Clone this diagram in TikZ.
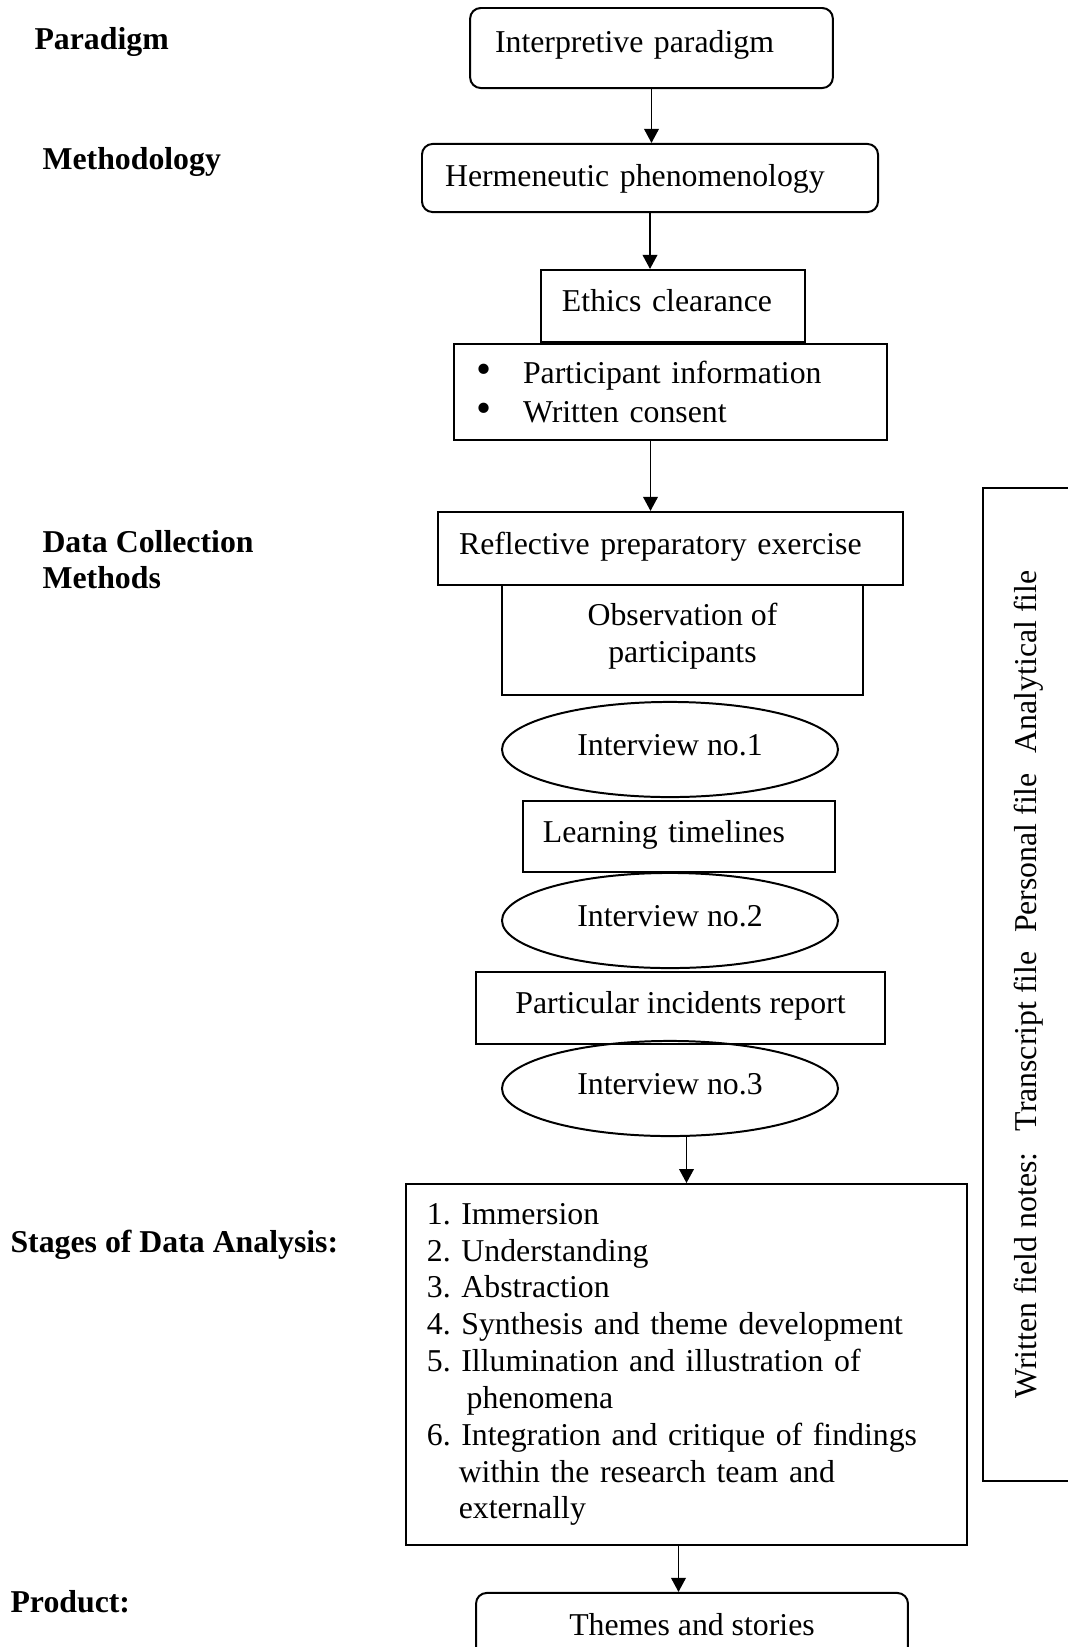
\documentclass[tikz,border=0pt]{standalone}
\usepackage{fontspec}
\setmainfont{Liberation Serif}
\usetikzlibrary{shapes.geometric,arrows.meta,calc}
\frenchspacing

\tikzset{
  box/.style={draw, line width=0.75pt, font=\fontsize{12}{14}\selectfont, inner ysep=0pt},
  lbox/.style={box, align=left},
  cbox/.style={box, align=center},
  rbox/.style={lbox, rounded corners=4pt},
  oneline/.style={text height=8.5pt, text depth=4pt},
  oval/.style={ellipse, draw, line width=0.75pt, font=\fontsize{12}{14}\selectfont, inner sep=0pt,
    minimum width=126.8pt, minimum height=35.9pt, text height=8.5pt, text depth=4.3pt},
  lab/.style={font=\fontsize{12}{13.6}\selectfont\bfseries, inner sep=0pt, align=left},
  arr/.style={line width=0.7pt, -{Triangle[length=5.3pt,width=5.5pt]}},
}
\newcommand{\bul}{\makebox[17.4pt][l]{\scalebox{1.35}{\textbullet}}}

\begin{document}
\begin{tikzpicture}[x=0.3774pt,y=-0.3774pt]
\useasboundingbox (0,0) rectangle (1068,1647);
\clip (0,0) rectangle (1068,1647);

% left column
\node[lab, anchor=base west] (lparadigm) at (34,49) {Paradigm};
\node[lab, anchor=base west] (lmethod) at (42,169) {Methodology};
\node[lab, anchor=north west] (lcollect) at (42,530) {Data Collection\\Methods};
\node[lab, anchor=base west] (lstages) at (10,1252) {Stages of Data Analysis:};
\node[lab, anchor=base west] (lproduct) at (10,1612) {Product:};

% main flow
\node[rbox, oneline, text depth=5pt, minimum height=30.2pt, inner xsep=9.4pt, text width=118.1pt] (interp) at (651.5,48) {Interpretive paradigm};
\node[rbox, oneline, text depth=2pt, minimum height=25.7pt, inner xsep=8.7pt, text width=154.7pt] (herm) at (650,178) {Hermeneutic phenomenology};
\node[lbox, oneline, minimum height=27.2pt, inner xsep=7.9pt, text width=83.8pt] (ethics) at (673,306) {Ethics clearance};
\node[lbox, minimum height=36.2pt, inner xsep=8.7pt, text width=146.1pt, font=\fontsize{12}{15}\selectfont] (partic) at (670.5,392)
  {\bul Participant information\\\bul Written consent\\[-12pt]};
\node[lbox, oneline, minimum height=27.6pt, inner xsep=7.9pt, text width=159.6pt] (reflect) at (670.5,548.5) {Reflective preparatory exercise};
\node[cbox, minimum width=136.2pt, minimum height=41.5pt] (observ) at (682.5,640) {Observation of\\participants\\[-8.5pt]};
\node[oval] (int1) at (670,749.5) {Interview no.1};
\node[lbox, oneline, minimum height=26.8pt, inner xsep=7.5pt, text width=102.7pt] (learn) at (679,836.5) {Learning timelines};
\node[oval] (int2) at (670,920.5) {Interview no.2};
\node[cbox, oneline, minimum width=154.4pt, minimum height=27.2pt] (partinc) at (680.5,1008) {Particular incidents report};
\node[oval] (int3) at (670,1088.5) {Interview no.3};
\node[lbox, minimum height=136.2pt, inner xsep=7.9pt, text width=195.9pt, font=\fontsize{12}{13.9}\selectfont] (stages) at (686.5,1364.5) {%
1. Immersion\\
2. Understanding\\
3. Abstraction\\
4. Synthesis and theme development\\
5. Illumination and illustration of\\
\hspace*{15pt}phenomena\\
6. Integration and critique of findings\\
\hspace*{1em}within the research team and\\
\hspace*{1em}externally};
\node[cbox, rounded corners=4pt, minimum width=163pt, minimum height=24.2pt] (themes) at (692,1625) {Themes and stories};

% field notes
\node[box, rotate=90, minimum width=374.8pt, minimum height=34.7pt] (notes) at (1029,984.5)
  {Written field notes:\hspace{8pt}Transcript file\hspace{7pt}Personal file\hspace{7.5pt}Analytical file\hspace{2.5pt}};

% arrows
\draw[arr] (interp.south) -- (interp.south |- herm.north);
\draw[arr] (herm.south) -- (herm.south |- ethics.north);
\draw[arr] ($(partic.south)+(-20,0)$) -- ($(partic.south |- reflect.north)+(-20,0)$);
\draw[arr] (int3.south -| stages.north) -- (stages.north);
\draw[arr] ($(stages.south)+(-8,0)$) -- ($(stages.south |- themes.north)+(-8,0)$);
\end{tikzpicture}
\end{document}
